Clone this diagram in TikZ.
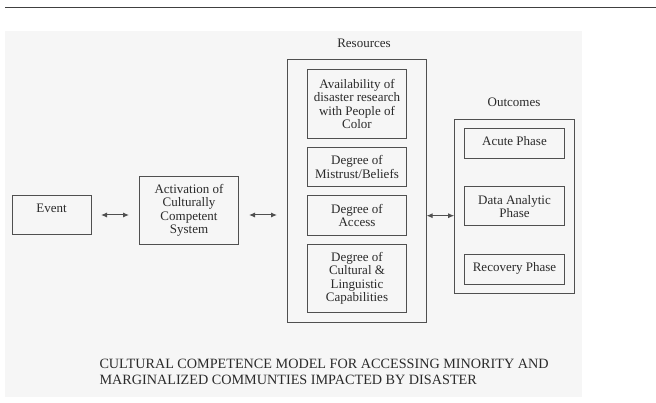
\documentclass[tikz,border=0pt]{standalone}
\usepackage{fontspec}
\setmainfont{Liberation Serif}
\usetikzlibrary{arrows.meta}
\definecolor{ln}{HTML}{505050}
\definecolor{tx}{HTML}{2A2A2A}
\definecolor{bg}{HTML}{F6F6F6}
\begin{document}
\begin{tikzpicture}[x=1pt,y=-1pt,
  box/.style={draw=ln,line width=1pt,inner sep=0pt,align=center,text=tx,
    font=\fontsize{13}{13.5}\selectfont},
  lbl/.style={text=tx,font=\fontsize{13}{13.5}\selectfont,inner sep=0pt},
  dbl/.style={draw=ln,line width=1pt,{Latex[length=6pt,width=5pt]}-{Latex[length=6pt,width=5pt]}}]
\useasboundingbox (0,0) rectangle (656,403);
\fill[white] (0,0) rectangle (656,403);
\fill[bg] (5,31) rectangle (582,397);
\draw[ln!80!black,line width=1.3pt] (5,7.5) -- (656,7.5);

% Event
\node[box,minimum width=79pt,minimum height=38.6pt] (event) at (51.5,215) {\raisebox{13pt}{Event}};
% Activation
\node[box,minimum width=99.4pt,minimum height=67.6pt] (act) at (189,210.5)
  {Activation of\\Culturally\\Competent\\System};

% Resources outer
\node[draw=ln,line width=1pt,minimum width=138.7pt,minimum height=262.7pt,inner sep=0pt] (res) at (356.7,191.35) {};
\node[lbl] (reslbl) at (364,43) {Resources};
\node[box,minimum width=99.4pt,minimum height=69pt] (r1) at (357,103.8)
  {Availability of\\disaster research\\with People of\\Color};
\node[box,minimum width=99.4pt,minimum height=39pt] (r2) at (357,167.2)
  {Degree of\\Mistrust/Beliefs};
\node[box,minimum width=99.4pt,minimum height=39.3pt] (r3) at (357,215.65)
  {Degree of\\Access};
\node[box,minimum width=99.4pt,minimum height=68.4pt] (r4) at (357,278.5)
  {Degree of\\Cultural \&\\Linguistic\\Capabilities};

% Outcomes outer
\node[draw=ln,line width=1pt,minimum width=119.3pt,minimum height=174.7pt,inner sep=0pt] (out) at (514.35,206.65) {};
\node[lbl] (outlbl) at (514,102) {Outcomes};
\node[box,minimum width=99.6pt,minimum height=29.3pt] (o1) at (514.5,143.65) {\raisebox{5pt}{Acute Phase}};
\node[box,minimum width=99.6pt,minimum height=38.7pt] (o2) at (514.5,206.35) {Data Analytic\\Phase};
\node[box,minimum width=99.6pt,minimum height=29.3pt] (o3) at (514.5,269.65) {\raisebox{5pt}{Recovery Phase}};

% connectors
\coordinate (a1s) at (101,215);
\coordinate (a1e) at (129,215);
\coordinate (a2s) at (249,215);
\coordinate (a2e) at (277,215);
\coordinate (a3s) at (427,215.7);
\coordinate (a3e) at (454,215.7);
\draw[dbl] (a1s) -- (a1e);
\draw[dbl] (a2s) -- (a2e);
\draw[dbl] (res.east |- a3s) -- (out.west |- a3e);

% caption
\node[anchor=north west,align=left,inner sep=0pt,text=tx,
  font=\fontsize{14.2}{16}\selectfont] (cap) at (99.3,359)
  {CULTURAL COMPETENCE MODEL FOR ACCESSING MINORITY AND\\MARGINALIZED COMMUNTIES IMPACTED BY DISASTER};
\end{tikzpicture}
\end{document}
